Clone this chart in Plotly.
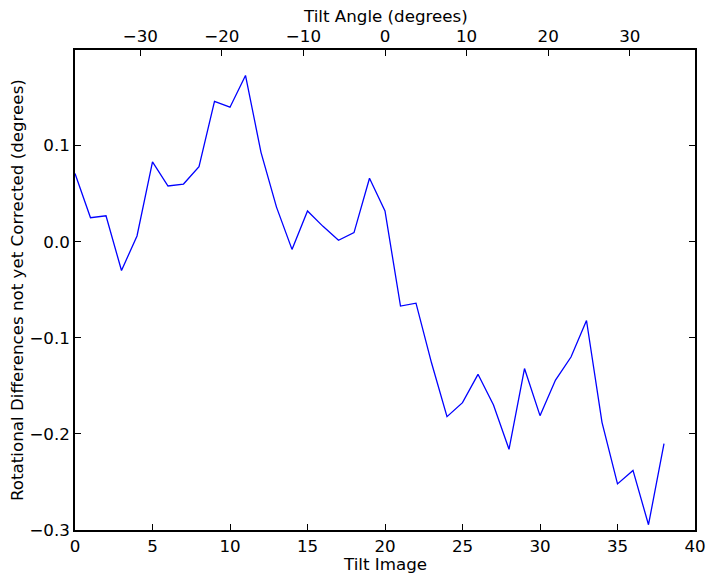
import plotly.graph_objects as go

tilt_image = list(range(39))
rot_diff = [0.071, 0.025, 0.027, -0.030, 0.006, 0.083, 0.058, 0.060, 0.078, 0.146,
            0.140, 0.173, 0.093, 0.036, -0.008, 0.032, 0.016, 0.0015, 0.0095, 0.066,
            0.032, -0.067, -0.064, -0.126, -0.182, -0.1675, -0.138, -0.170, -0.216, -0.132,
            -0.181, -0.144, -0.120, -0.082, -0.188, -0.252, -0.238, -0.2945, -0.210]

x_ticks = [0, 5, 10, 15, 20, 25, 30, 35, 40]
y_ticks = [-0.3, -0.2, -0.1, 0.0, 0.1]
y_tick_text = ["\u22120.3", "\u22120.2", "\u22120.1", "0.0", "0.1"]
angle_ticks = [-30, -20, -10, 0, 10, 20, 30]
angle_tick_text = ["\u221230", "\u221220", "\u221210", "0", "10", "20", "30"]
angle_range = [-38, 38]

font = dict(family="DejaVu Sans", size=16.7, color="black")

fig = go.Figure()
fig.add_trace(go.Scatter(x=tilt_image, y=rot_diff, mode="lines",
                         line=dict(color="#0000ff", width=1.3), showlegend=False))
# invisible trace for top axis
fig.add_trace(go.Scatter(x=angle_range, y=[None, None], xaxis="x2", mode="lines",
                         showlegend=False, hoverinfo="skip"))

fig.update_layout(
    width=714, height=579,
    margin=dict(l=75, r=19, t=50, b=49, autoexpand=False),
    plot_bgcolor="white", paper_bgcolor="white",
    font=font,
    xaxis=dict(range=[0, 40], tickvals=x_ticks, ticks="inside", ticklen=6, tickwidth=1,
               tickcolor="black", showline=True, linecolor="black", linewidth=1.5,
               showgrid=False, zeroline=False, mirror=False, automargin=False,
               tickfont=font),
    xaxis2=dict(range=angle_range, overlaying="x", side="top", tickvals=angle_ticks,
                ticktext=angle_tick_text, ticks="inside", ticklen=6, tickwidth=1,
                tickcolor="black", showline=True, linecolor="black", linewidth=1.5,
                showgrid=False, zeroline=False, automargin=False, tickfont=font),
    yaxis=dict(range=[-0.3, 0.1995], tickvals=y_ticks, ticktext=y_tick_text,
               ticks="inside", ticklen=6, tickwidth=1, tickcolor="black",
               showline=True, linecolor="black", linewidth=1.5, mirror="ticks",
               showgrid=False, zeroline=False, automargin=False, tickfont=font),
    annotations=[
        dict(text="Tilt Image", xref="paper", yref="paper", x=0.5, y=-0.0705,
             xanchor="center", yanchor="middle", showarrow=False, font=font),
        dict(text="Tilt Angle (degrees)", xref="paper", yref="paper", x=0.5, y=1.0698,
             xanchor="center", yanchor="middle", showarrow=False, font=font),
        dict(text="Rotational Differences not yet Corrected (degrees)", xref="paper",
             yref="paper", x=-0.0935, y=0.5, xanchor="center", yanchor="middle",
             textangle=-90, showarrow=False, font=font),
    ],
)

fig.write_html("out.html", config={"displayModeBar": False},
               post_script="document.body.style.margin='0';document.body.style.overflow='hidden';")
